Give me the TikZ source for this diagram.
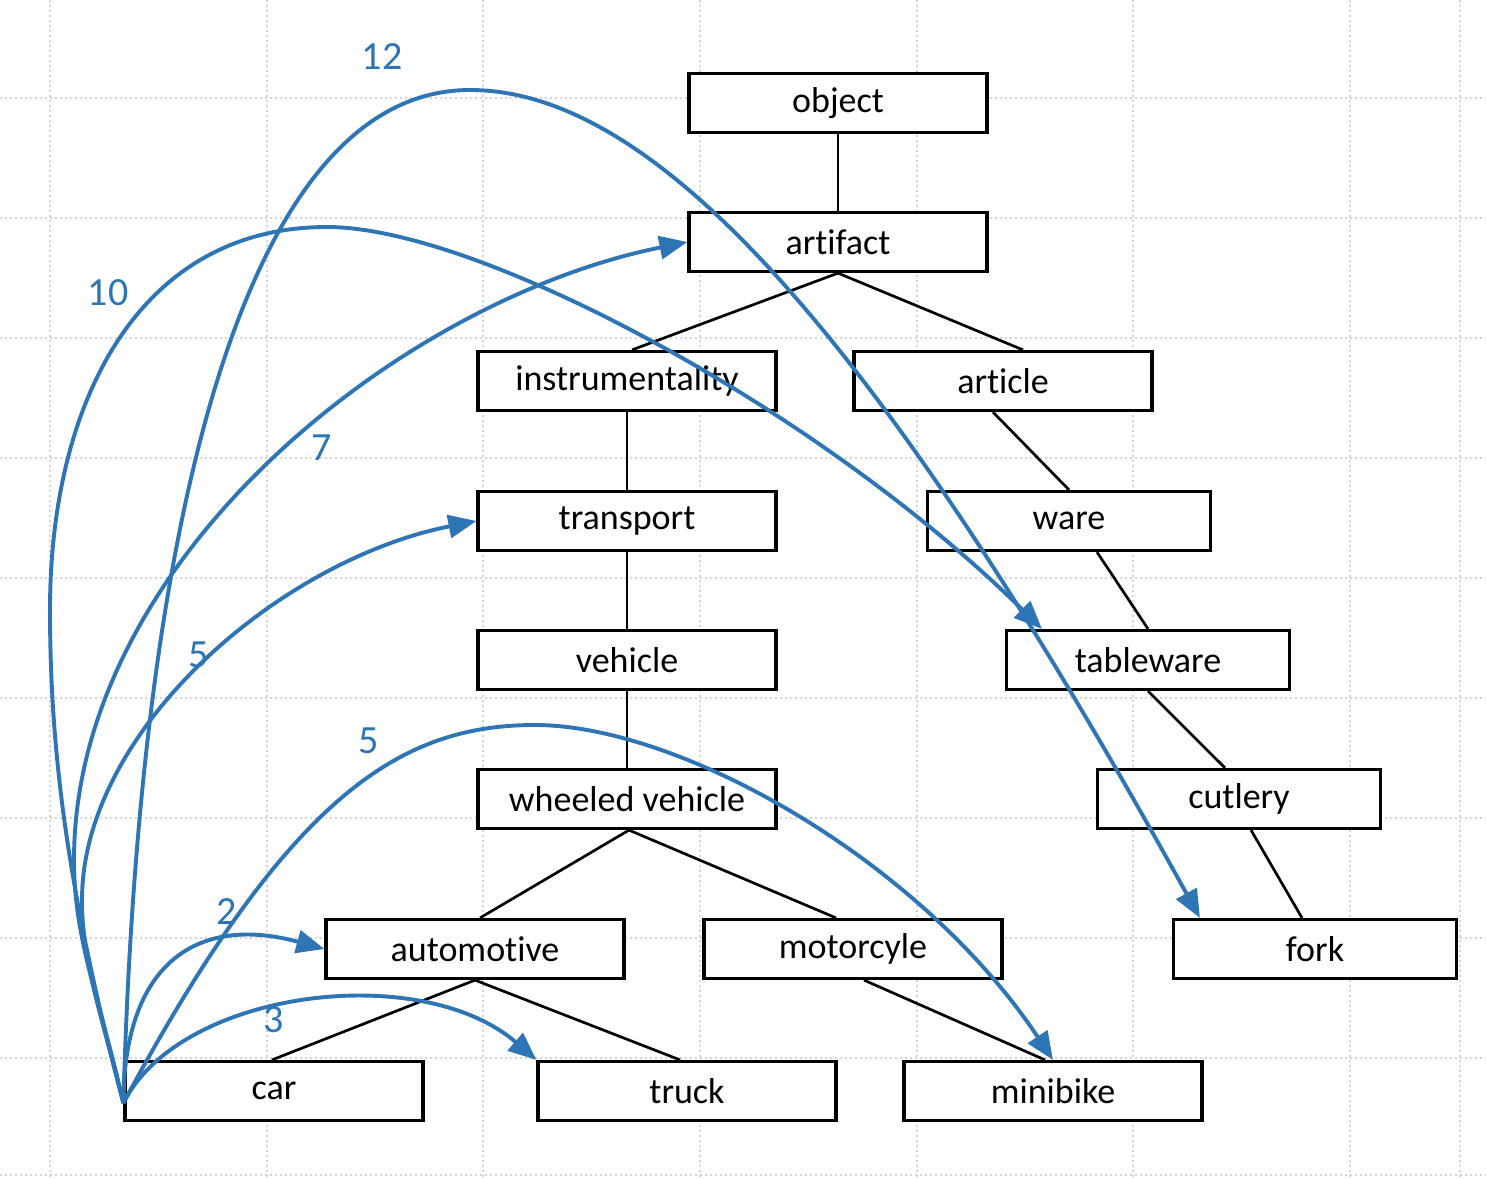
\documentclass[tikz,border=0pt]{standalone}
\usepackage{fontspec}
\setmainfont{Carlito}[Ligatures={NoCommon}]
\usetikzlibrary{arrows.meta,calc}
\definecolor{linkblue}{HTML}{2E75B6}
\definecolor{gridgray}{HTML}{D4D4D4}
\begin{document}
\begin{tikzpicture}[x=0.5pt,y=-0.5pt,
  box/.style={draw=black, line width=1.6pt, fill=white, minimum width=149pt,
    minimum height=29.5pt, inner sep=0pt, font=\fontsize{18}{22}\selectfont},
  nbox/.style={box, minimum width=141.5pt},
  tree/.style={line width=1.35pt, black},
  link/.style={draw=linkblue, line width=1.95pt, -{Triangle[length=14pt,width=11.5pt]}},
  num/.style={text=linkblue, font=\fontsize{20}{24}\selectfont, inner sep=0pt},
  gridline/.style={gridgray, line width=1pt, dash pattern=on 1pt off 1.5pt}]
\useasboundingbox (0,0) rectangle (1486,1178);
\fill[white] (0,0) rectangle (1486,1178);
% background grid
\foreach \y in {98,218,...,1058} \draw[gridline] (0,\y) -- (1486,\y);
\draw[gridline] (0,1175) -- (1486,1175);
\foreach \x in {50,266.67,483.33,700,916.67,1133.33,1350,1460} \draw[gridline] (\x,0) -- (\x,1178);
% nodes
\node[box] (object) at (838,103) {object};
\node[box] (artifact) at (838,242) {artifact};
\node[box] (instr) at (627,381) {instrumentality};
\node[box] (article) at (1003,381) {article};
\node[box] (transport) at (627,521) {transport};
\node[nbox] (ware) at (1069,521) {ware};
\node[box] (vehicle) at (627,660) {vehicle};
\node[nbox] (tableware) at (1148,660) {tableware};
\node[box] (wheeled) at (627,799) {wheeled vehicle};
\node[nbox] (cutlery) at (1239,799) {cutlery};
\node[box] (automotive) at (475,949) {automotive};
\node[box] (motorcyle) at (853,949) {motorcyle};
\node[nbox] (fork) at (1315,949) {fork};
\node[box] (car) at (274,1091) {car};
\node[box] (truck) at (687,1091) {truck};
\node[box] (minibike) at (1053,1091) {minibike};
% tree edges
\draw[tree] (object.south) -- (artifact.north);
\draw[tree] (artifact.south) -- ($(instr.north)+(5,0)$);
\draw[tree] (artifact.south) -- ($(article.north)+(20,0)$);
\draw[tree] (instr.south) -- (transport.north);
\draw[tree] ($(article.south)+(-10,0)$) -- (ware.north);
\draw[tree] ($(ware.south)+(28,0)$) -- (tableware.north);
\draw[tree] (tableware.south) -- ($(cutlery.north)+(-14,0)$);
\draw[tree] ($(cutlery.south)+(12,0)$) -- ($(fork.north)+(-13,0)$);
\draw[tree] (transport.south) -- (vehicle.north);
\draw[tree] (vehicle.south) -- (wheeled.north);
\draw[tree] ($(wheeled.south)+(2,0)$) -- ($(automotive.north)+(5,0)$);
\draw[tree] ($(wheeled.south)+(2,0)$) -- ($(motorcyle.north)+(-17,0)$);
\draw[tree] (automotive.south) -- ($(car.north)+(-2,0)$);
\draw[tree] (automotive.south) -- ($(truck.north)+(-7,0)$);
\draw[tree] ($(motorcyle.south)+(11,0)$) -- ($(minibike.north)+(-8,0)$);
% blue links from car
\coordinate (o) at ($(car.west)+(0,12)$);
\draw[link] (o) .. controls (124,960) and (200,915) .. (automotive.west);
\draw[link] (o) .. controls (180,990) and (420,960) .. (truck.north west);
\draw[link] (o) .. controls (289,795) and (400,725) .. (535,725)
  .. controls (680,725) and (920,860) .. (minibike.north);
\draw[link] (o) .. controls (100,1010) and (82,960) .. (82,900)
  .. controls (82,730) and (280,560) .. (transport.west);
\draw[link] (o) .. controls (100,1000) and (74,940) .. (74,860)
  .. controls (74,560) and (400,300) .. (artifact.west);
\draw[link] (o) .. controls (70,900) and (50,760) .. (50,610)
  .. controls (50,400) and (140,227) .. (327,227)
  .. controls (480,227) and (820,410) .. ($(tableware.north west)+(37,0)$);
\draw[link] (o) .. controls (140,500) and (250,90) .. (470,90)
  .. controls (650,90) and (870,320) .. ($(fork.north west)+(28,0)$);
% labels
\node[num] (n12) at (382,57) {12};
\node[num] (n10) at (108,293) {10};
\node[num] (n7) at (322,448) {7};
\node[num] (n5a) at (199,655) {5};
\node[num] (n5b) at (369,741) {5};
\node[num] (n2) at (227,912) {2};
\node[num] (n3) at (274,1020) {3};
\end{tikzpicture}
\end{document}
